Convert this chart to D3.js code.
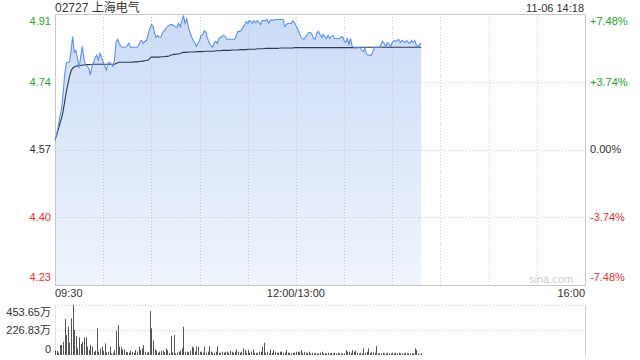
<!DOCTYPE html>
<html><head><meta charset="utf-8">
<script src="https://cdn.jsdelivr.net/npm/d3@7/dist/d3.min.js"></script>
<style>
html,body{margin:0;padding:0;background:#fff;}
svg{display:block;font-family:Arial,"Liberation Sans","Noto Sans CJK SC",sans-serif;}
</style></head>
<body>
<svg id="c" width="640" height="360"></svg>
<script>
// ---------- data ----------
const title = "02727 上海电气";
const stamp = "11-06 14:18";
const preClose = 4.57;
const priceTicks = [4.91, 4.74, 4.57, 4.40, 4.23];
const pctTicks = ["+7.48%", "+3.74%", "0.00%", "-3.74%", "-7.48%"];
const timeLabels = ["09:30", "12:00/13:00", "16:00"];
const volTickLabels = ["453.65万", "226.83万", "0"];
const volTicks = [453.65, 226.83, 0];
// minute-by-minute last price (from 09:30)
const prices = [
4.593,4.608,4.628,4.653,4.670,4.708,4.758,4.788,4.790,4.790,
4.820,4.855,4.815,4.820,4.800,4.775,4.805,4.830,4.800,4.783,
4.780,4.775,4.758,4.778,4.790,4.803,4.808,4.795,4.813,4.803,
4.790,4.780,4.770,4.788,4.790,4.785,4.780,4.795,4.840,4.848,
4.838,4.830,4.828,4.828,4.828,4.833,4.838,4.828,4.828,4.828,
4.828,4.828,4.833,4.843,4.845,4.838,4.843,4.845,4.860,4.875,
4.885,4.880,4.863,4.853,4.858,4.853,4.853,4.865,4.870,4.875,
4.880,4.883,4.885,4.885,4.883,4.880,4.878,4.888,4.880,4.895,
4.908,4.888,4.900,4.880,4.865,4.855,4.845,4.840,4.830,4.838,
4.845,4.858,4.860,4.870,4.865,4.850,4.840,4.833,4.828,4.838,
4.843,4.838,4.850,4.853,4.855,4.858,4.855,4.848,4.848,4.848,
4.848,4.848,4.848,4.860,4.868,4.868,4.870,4.878,4.883,4.893,
4.888,4.895,4.893,4.888,4.895,4.890,4.895,4.890,4.885,4.895,
4.895,4.895,4.898,4.888,4.895,4.898,4.895,4.898,4.898,4.898,
4.898,4.898,4.898,4.880,4.885,4.888,4.888,4.888,4.895,4.890,
4.883,4.875,4.865,4.855,4.850,4.848,4.853,4.860,4.865,4.865,
4.860,4.850,4.848,4.863,4.868,4.860,4.853,4.860,4.855,4.850,
4.858,4.850,4.855,4.858,4.850,4.850,4.850,4.850,4.853,4.855,
4.845,4.840,4.850,4.835,4.850,4.830,4.828,4.828,4.828,4.828,
4.828,4.820,4.818,4.825,4.810,4.808,4.808,4.808,4.818,4.828,
4.828,4.828,4.828,4.835,4.843,4.838,4.830,4.840,4.835,4.830,
4.840,4.845,4.843,4.845,4.848,4.840,4.845,4.843,4.840,4.845,
4.840,4.838,4.845,4.840,4.845,4.833,4.830,4.835,4.838
];
// minute-by-minute average price
const avgPrices = [
4.595,4.605,4.620,4.635,4.648,4.665,4.690,4.715,4.735,4.753,
4.768,4.775,4.778,4.780,4.781,4.782,4.782,4.783,4.783,4.784,
4.784,4.784,4.784,4.785,4.785,4.785,4.785,4.785,4.785,4.785,
4.785,4.785,4.785,4.785,4.785,4.785,4.785,4.785,4.787,4.789,
4.790,4.790,4.790,4.790,4.790,4.790,4.790,4.790,4.790,4.791,
4.791,4.791,4.792,4.792,4.793,4.793,4.794,4.795,4.795,4.800,
4.803,4.803,4.803,4.803,4.803,4.803,4.804,4.804,4.804,4.805,
4.805,4.806,4.808,4.809,4.810,4.810,4.811,4.811,4.812,4.814,
4.815,4.815,4.815,4.816,4.816,4.816,4.816,4.816,4.817,4.817,
4.817,4.817,4.817,4.818,4.818,4.818,4.818,4.818,4.818,4.818,
4.819,4.819,4.819,4.819,4.820,4.820,4.820,4.820,4.820,4.820,
4.821,4.821,4.821,4.821,4.821,4.822,4.822,4.822,4.822,4.822,
4.823,4.823,4.823,4.823,4.823,4.823,4.824,4.824,4.824,4.824,
4.824,4.825,4.825,4.825,4.825,4.825,4.825,4.825,4.825,4.825,
4.826,4.826,4.826,4.826,4.826,4.826,4.826,4.826,4.826,4.827,
4.827,4.827,4.827,4.827,4.827,4.827,4.827,4.827,4.827,4.827,
4.827,4.827,4.827,4.827,4.827,4.827,4.827,4.827,4.827,4.827,
4.827,4.827,4.827,4.827,4.827,4.827,4.827,4.827,4.827,4.827,
4.827,4.827,4.827,4.827,4.827,4.827,4.827,4.827,4.827,4.827,
4.828,4.828,4.828,4.828,4.828,4.828,4.828,4.828,4.828,4.828,
4.828,4.828,4.828,4.828,4.828,4.828,4.828,4.828,4.828,4.828,
4.828,4.828,4.828,4.828,4.828,4.828,4.828,4.828,4.828,4.828,
4.828,4.828,4.828,4.828,4.828,4.828,4.828,4.828,4.828
];
// minute volumes (万股)
const volumes = [
39,39,20,91,91,121,327,181,257,110,
333,454,227,172,60,160,100,121,160,160,
76,45,91,76,30,40,242,30,60,76,
39,106,25,30,76,15,21,45,221,272,
76,70,51,51,30,25,21,39,30,20,
45,30,76,45,60,91,30,21,30,399,
242,130,51,39,20,30,39,39,25,60,
45,20,172,25,181,15,24,30,39,60,
257,30,30,24,39,76,67,30,76,76,
30,30,20,76,21,30,82,30,21,20,
30,82,20,21,30,21,30,30,20,39,
30,20,30,51,30,21,30,60,45,20,
45,21,30,51,21,20,21,30,30,76,
112,20,30,15,51,20,45,30,21,21,
30,30,20,21,45,21,20,15,21,21,
30,30,30,45,21,30,21,20,30,15,
21,15,21,15,15,21,30,15,15,15,
21,15,21,15,21,15,21,15,15,15,
15,45,30,30,20,45,30,39,21,15,
21,15,60,20,30,60,20,24,24,21,
82,15,15,15,21,15,15,21,15,15,
21,15,21,15,21,15,15,15,21,15,
15,15,15,15,60,45,15,6,15
];
const sessionMinutes = 330;
const breakMinute = 150;

// ---------- drawing ----------
const svg = d3.select("#c");
const L = 55, R = 585, T = 14, B = 285;
const VT = 305, VB = 355;
const green = "#2ca02c", red = "#e8312f", txt = "#333";

const x = d3.scaleLinear().domain([0, sessionMinutes]).range([L, R]);
const y = d3.scaleLinear().domain([preClose * (1 - 0.0748), preClose * (1 + 0.0748)]).range([B, T]);
const yv = d3.scaleLinear().domain([0, 453.65]).range([VB, VT]);

// gradient
const defs = svg.append("defs");
const g = defs.append("linearGradient").attr("id", "fillg")
  .attr("gradientUnits", "userSpaceOnUse").attr("x1", 0).attr("x2", 0).attr("y1", T).attr("y2", B);
g.append("stop").attr("offset", "0%").attr("stop-color", "#cbdbf7");
g.append("stop").attr("offset", "100%").attr("stop-color", "#f0f5fd");

// area
const area = d3.area().x((d, i) => x(i)).y0(B).y1(d => y(d));
svg.append("path").datum(prices).attr("d", area).attr("fill", "url(#fillg)");

// grid lines
const grid = svg.append("g").attr("stroke", "#c8c8c8").attr("stroke-dasharray", "1,2").attr("shape-rendering", "crispEdges");
const xTicks = d3.range(30, sessionMinutes, 30);
grid.selectAll("line.v").data(xTicks).enter().append("line")
  .attr("x1", d => Math.round(x(d)) + 0.5).attr("x2", d => Math.round(x(d)) + 0.5)
  .attr("y1", T).attr("y2", B);
grid.selectAll("line.h").data(priceTicks.slice(1, 4)).enter().append("line")
  .attr("x1", L).attr("x2", R).attr("y1", d => Math.round(y(d)) + 0.5).attr("y2", d => Math.round(y(d)) + 0.5);

// border
svg.append("rect").attr("x", L + 0.5).attr("y", T + 0.5).attr("width", R - L).attr("height", B - T)
  .attr("fill", "none").attr("stroke", "#c8c8c8").attr("shape-rendering", "crispEdges");

// lines
const line = d3.line().x((d, i) => x(i)).y(d => y(d));
svg.append("path").datum(avgPrices).attr("d", line).attr("fill", "none").attr("stroke", "#2e3a4e").attr("stroke-width", 1.1);
svg.append("path").datum(prices).attr("d", line).attr("fill", "none").attr("stroke", "#5a92f2").attr("stroke-width", 1.1);

// left labels
const lblY = (d, i, n) => {
  const p = y(d);
  if (i === 0) return p + 6;
  if (i === n - 1) return p - 7;
  return p;
};
svg.append("g").selectAll("text").data(priceTicks).enter().append("text")
  .attr("x", 51).attr("y", (d, i) => lblY(d, i, priceTicks.length)).attr("dy", "0.35em")
  .attr("text-anchor", "end").attr("font-size", 11)
  .attr("fill", d => d > preClose ? green : d < preClose ? red : txt)
  .text(d => d.toFixed(2));
// right labels
svg.append("g").selectAll("text").data(pctTicks).enter().append("text")
  .attr("x", 590).attr("y", (d, i) => lblY(priceTicks[i], i, pctTicks.length)).attr("dy", "0.35em")
  .attr("font-size", 11)
  .attr("fill", d => d.startsWith("+") ? green : d.startsWith("-") ? red : txt)
  .text(d => d);

// title
svg.append("text").attr("x", 55).attr("y", 12).attr("font-size", 12).attr("fill", txt).text(title);
svg.append("text").attr("x", 584).attr("y", 12).attr("font-size", 11).attr("fill", txt).attr("text-anchor", "end").text(stamp);

// watermark
svg.append("text").attr("x", 573).attr("y", 283).attr("font-size", 11).attr("fill", "#cfcfcf").attr("text-anchor", "end").text("sina.com");

// time labels
const tPos = [0, breakMinute, sessionMinutes];
const anchors = ["start", "middle", "end"];
svg.append("g").selectAll("text").data(timeLabels).enter().append("text")
  .attr("x", (d, i) => x(tPos[i])).attr("y", 293).attr("dy", "0.35em")
  .attr("text-anchor", (d, i) => anchors[i]).attr("font-size", 11).attr("fill", txt).text(d => d);

// volume panel
const vg = svg.append("g");
vg.selectAll("line.h").data(volTicks.slice(0, 2)).enter().append("line")
  .attr("x1", L).attr("x2", R).attr("y1", d => Math.round(yv(d)) + 0.5).attr("y2", d => Math.round(yv(d)) + 0.5)
  .attr("stroke", "#c8c8c8").attr("stroke-dasharray", "1,2");
vg.append("line").attr("x1", R + 0.5).attr("x2", R + 0.5).attr("y1", VT).attr("y2", VB + 1).attr("stroke", "#d0d0d0");
vg.append("line").attr("x1", L + 0.5).attr("x2", L + 0.5).attr("y1", VT).attr("y2", VB + 1).attr("stroke", "#e4e4e4");
vg.selectAll("rect").data(volumes).enter().append("rect")
  .attr("x", (d, i) => Math.round(x(i)))
  .attr("y", d => yv(d)).attr("width", 1).attr("height", d => VB - yv(d))
  .attr("fill", "#555");
const vlY = [312, 330, 349];
svg.append("g").selectAll("text").data(volTickLabels).enter().append("text")
  .attr("x", 51).attr("y", (d, i) => vlY[i]).attr("dy", "0.35em")
  .attr("text-anchor", "end").attr("font-size", 11).attr("fill", txt).text(d => d);
</script>
</body></html>
